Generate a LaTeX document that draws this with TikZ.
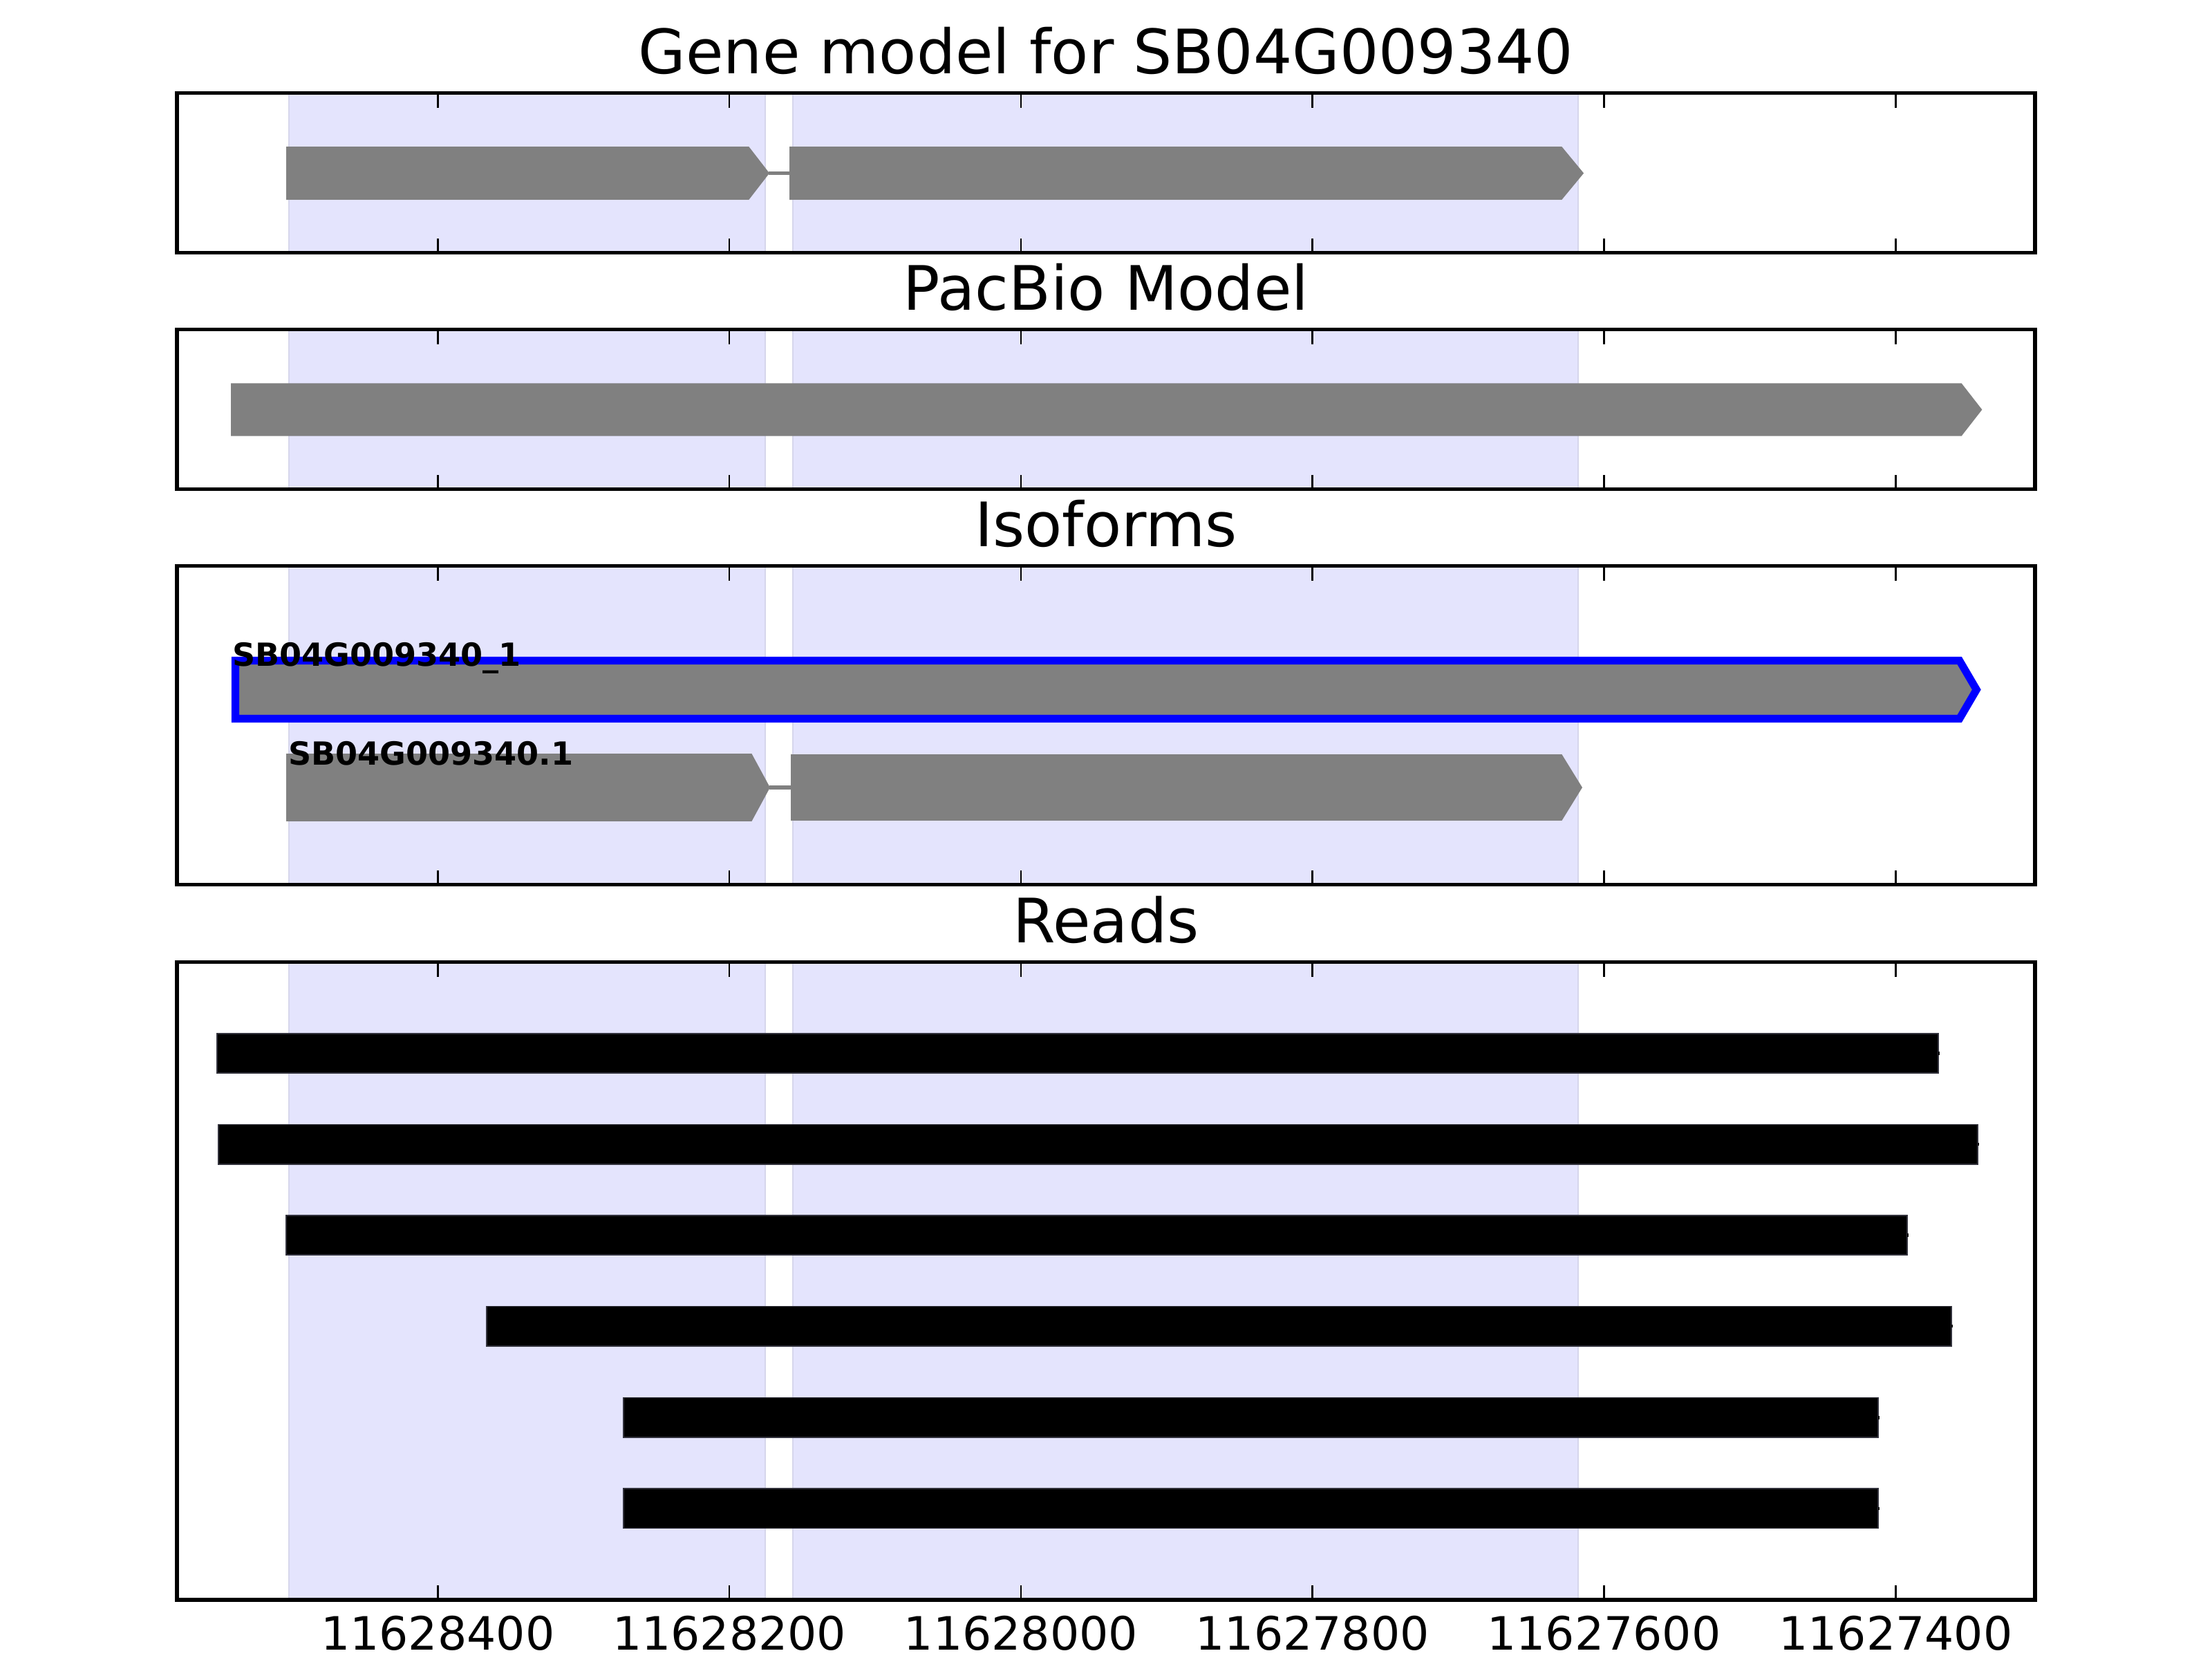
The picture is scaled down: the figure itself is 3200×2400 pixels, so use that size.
\documentclass[tikz,border=0pt]{standalone}
\usepackage{fontspec}
\setmainfont{DejaVu Sans}
\definecolor{spanfill}{RGB}{228,228,253}
\definecolor{spanedge}{RGB}{214,214,236}
\definecolor{exongray}{RGB}{128,128,128}
\definecolor{readedge}{RGB}{50,50,60}
\tikzset{
  frame/.style={draw=black, line width=1pt},
  spanbox/.style={fill=spanfill, draw=spanedge, line width=0.5pt},
  exon/.style={fill=exongray, draw=exongray, line width=0.3pt, line join=miter},
  intron/.style={draw=exongray, line width=1pt},
  tickmark/.style={draw=black, line width=0.5pt},
  readbar/.style={fill=black, draw=readedge, line width=0.3pt},
  readnub/.style={fill=black},
  ptitle/.style={anchor=base, inner sep=0pt, font=\fontsize{16}{19}\selectfont},
  ticklabel/.style={anchor=base, inner sep=0pt, font=\fontsize{12}{14}\selectfont},
  isolabel/.style={anchor=base west, inner sep=0pt, font=\bfseries\fontsize{8.32}{10}\selectfont},
  isobox/.style={fill=exongray, draw=blue, line width=2pt, line join=miter},
}
\begin{document}
\begin{tikzpicture}[x=0.00635cm, y=-0.00635cm]
\useasboundingbox (0,0) rectangle (3200,2400);
\fill[white] (0,0) rectangle (3200,2400);

% shaded spans in every panel
\foreach \t/\b in {134.7/365.7, 476.7/707.7, 818.7/1279.7, 1391.7/2313.7} {
  \filldraw[spanbox] (418,\t) rectangle (1107,\b);
  \filldraw[spanbox] (1147,\t) rectangle (2283,\b);
}

% Panel 1: gene model
\coordinate (g1e) at (1112,250.5);
\coordinate (g2s) at (1143,250.5);
\draw[intron] (g1e) -- (g2s);
\filldraw[exon] (415,213) -- (1083,213) -- (g1e) -- (1083,288) -- (415,288) -- cycle;
\filldraw[exon] (1143,213) -- (2259,213) -- (2290,250.5) -- (2259,288) -- (1143,288) -- cycle;

% Panel 2: PacBio model
\filldraw[exon] (335,555.3) -- (2837.3,555.3) -- (2866.3,592.5) -- (2837.3,629.7) -- (335,629.7) -- cycle;

% Panel 3: isoforms
\filldraw[isobox] (340.5,955.5) -- (2834.7,955.5) -- (2859.3,997.5) -- (2834.7,1039.5) -- (340.5,1039.5) -- cycle;
\coordinate (i1e) at (1113,1139);
\coordinate (i2s) at (1145,1139);
\draw[intron] (i1e) -- (i2s);
\filldraw[exon] (415,1091) -- (1087,1091) -- (i1e) -- (1087,1187) -- (415,1187) -- cycle;
\filldraw[exon] (1145,1092) -- (2259,1092) -- (2288,1139) -- (2259,1186) -- (1145,1186) -- cycle;
\node[isolabel] (lab1) at (335,963) {SB04G009340\_1};
\node[isolabel] (lab2) at (416,1106) {SB04G009340.1};

% Panel 4: reads
\foreach \l/\r/\y in {314.3/2803.7/1523.4, 316.2/2860.7/1655, 414.3/2758.7/1786.5, 704/2822.7/1918.2, 902.3/2716.7/2050.3, 902.3/2716.7/2181.8} {
  \filldraw[readbar] (\l,{\y-28.7}) rectangle (\r,{\y+28.7});
  \fill[readnub] (\r,{\y-2.2}) rectangle ({\r+2.6},{\y+2.2});
}

% ticks and frames
\foreach \t/\b in {134.7/365.7, 476.7/707.7, 818.7/1279.7, 1391.7/2313.7} {
  \foreach \x in {633.3,1055.1,1476.9,1898.7,2320.5,2742.3} {
    \draw[tickmark] (\x,\t) -- (\x,{\t+21});
    \draw[tickmark] (\x,\b) -- (\x,{\b-21});
  }
  \draw[frame] (256,\t) rectangle (2944,\b);
}

% titles
\node[ptitle] (t1) at (1600,106.2) {Gene model for SB04G009340};
\node[ptitle] (t2) at (1600,448.2) {PacBio Model};
\node[ptitle] (t3) at (1600,790.2) {Isoforms};
\node[ptitle] (t4) at (1600,1363.2) {Reads};

% tick labels
\node[ticklabel] (x1) at (633.3,2386.7) {11628400};
\node[ticklabel] (x2) at (1055.1,2386.7) {11628200};
\node[ticklabel] (x3) at (1476.9,2386.7) {11628000};
\node[ticklabel] (x4) at (1898.7,2386.7) {11627800};
\node[ticklabel] (x5) at (2320.5,2386.7) {11627600};
\node[ticklabel] (x6) at (2742.3,2386.7) {11627400};
\end{tikzpicture}
\end{document}
